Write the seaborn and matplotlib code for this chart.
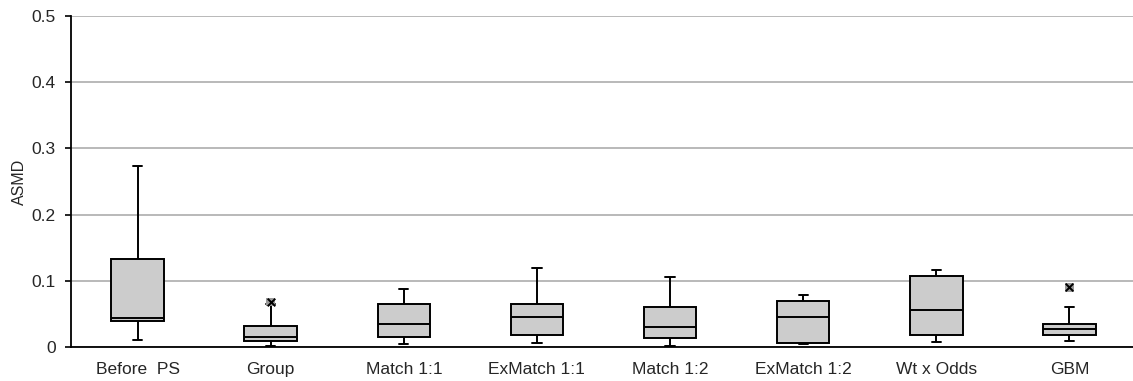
import numpy as np
import pandas as pd
import matplotlib
matplotlib.use("Agg")
import matplotlib.pyplot as plt
import seaborn as sns

# Box-plot summaries of absolute standardized mean difference by method
methods = ["Before  PS", "Group", "Match 1:1", "ExMatch 1:1",
           "Match 1:2", "ExMatch 1:2", "Wt x Odds", "GBM"]
whisker_low = [0.011, 0.001, 0.004, 0.006, 0.002, 0.004, 0.007, 0.0095]
q1 = [0.039, 0.009, 0.015, 0.018, 0.013, 0.006, 0.018, 0.018]
median = [0.044, 0.015, 0.035, 0.046, 0.030, 0.046, 0.056, 0.027]
q3 = [0.133, 0.032, 0.065, 0.065, 0.060, 0.0695, 0.107, 0.034]
whisker_high = [0.274, 0.065, 0.088, 0.119, 0.105, 0.079, 0.116, 0.060]
outlier_method = ["Group", "GBM"]
outlier_value = [0.068, 0.090]

# Five-number summaries as long-form rows; with whis=(0, 100) the whiskers
# reach the extremes and the quartiles of five values are q1 and q3.
rows = []
for m, lo, a, md, b, hi in zip(methods, whisker_low, q1, median, q3, whisker_high):
    for v in (lo, a, md, b, hi):
        rows.append({"method": m, "ASMD": v})
df = pd.DataFrame(rows)
out_df = pd.DataFrame({"method": outlier_method, "ASMD": outlier_value})

sns.set_style("white")
plt.rcParams["font.family"] = ["Liberation Sans", "DejaVu Sans"]

fig = plt.figure(figsize=(11.33, 3.81), dpi=100)
ax = fig.add_axes([71 / 1133, 34 / 381, 1065 / 1133, 331 / 381])

ax.yaxis.grid(True, color="#a6a6a6", linewidth=1.1, zorder=0)
ax.set_axisbelow(True)

sns.boxplot(
    data=df, x="method", y="ASMD", order=methods, ax=ax,
    whis=(0, 100), width=0.395, color="#cccccc", saturation=1,
    linecolor="black", linewidth=1.4, showfliers=False,
    capwidths=0.07,
    boxprops=dict(facecolor="#cccccc", edgecolor="black"),
)

# Outlying values: gray square under a black cross
sns.scatterplot(data=out_df, x="method", y="ASMD", ax=ax, marker="s",
                s=40, color="#9a9a9a", edgecolor="none", zorder=5, legend=False)
sns.scatterplot(data=out_df, x="method", y="ASMD", ax=ax, marker="x",
                s=30, color="black", linewidth=1.4, zorder=6, legend=False)

ax.set_xlim(-0.5, len(methods) - 0.5)
ax.set_ylim(0, 0.5)
ax.set_yticks([0, 0.1, 0.2, 0.3, 0.4, 0.5])
ax.set_yticklabels(["0", "0.1", "0.2", "0.3", "0.4", "0.5"], fontsize=12.5)
ax.set_xticks(range(len(methods)))
ax.set_xticklabels(methods, fontsize=12.5)
ax.set_xticks(np.arange(-0.5, len(methods) - 0.5, 1.0), minor=True)
ax.tick_params(axis="x", which="major", length=0, pad=11)
ax.tick_params(axis="x", which="minor", length=5, width=1.2, color="black",
               direction="out")
ax.tick_params(axis="y", length=4, width=1.2, color="black", direction="out",
               left=True, pad=7)
ax.set_xlabel("")
ax.set_ylabel("ASMD", fontsize=11.5, labelpad=3)

for side in ("top", "right"):
    ax.spines[side].set_visible(False)
for side in ("left", "bottom"):
    ax.spines[side].set_color("black")
    ax.spines[side].set_linewidth(1.3)

fig.savefig("out.png", dpi=100, facecolor="white")
